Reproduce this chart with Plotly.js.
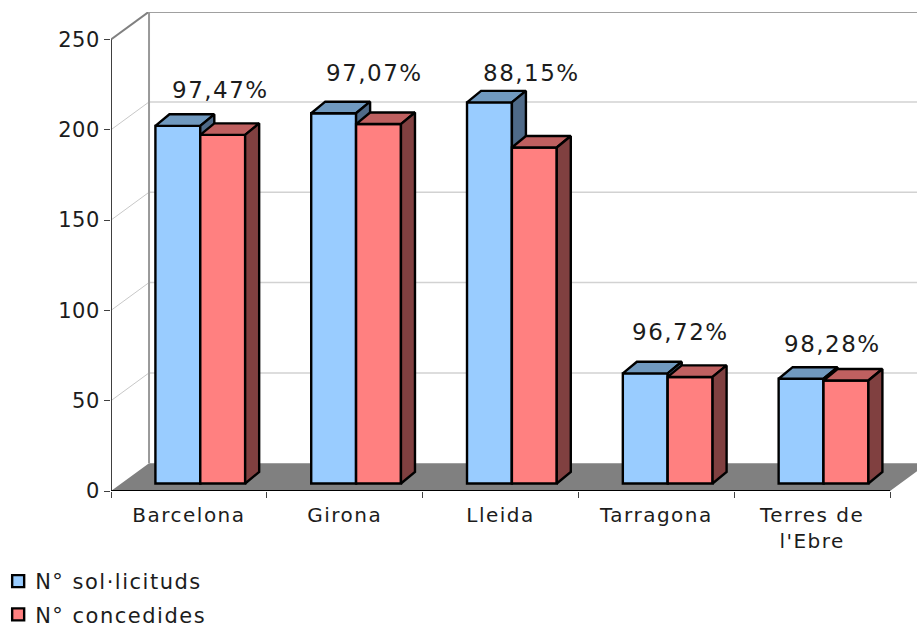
<!DOCTYPE html>
<html>
<head>
<meta charset="utf-8">
<script src="https://cdn.plot.ly/plotly-3.0.1.min.js"></script>
<style>
html,body{margin:0;padding:0;background:#fff;overflow:hidden}
svg text{letter-spacing:1.5px}
svg .ytick text{letter-spacing:.5px}
.legendtext{transform:translateX(-3px)}
.legendbar path{transform:scale(1.2)}
</style>
</head>
<body>
<div id="chart" style="width:917px;height:625px"></div>
<script>
const categories = ["Barcelona", "Girona", "Lleida", "Tarragona", "Terres de<br>l'Ebre"];
const solicituds = [198, 205, 211, 61, 58];
const concedides = [193, 199, 186, 59, 57];
const percentLabels = ["97,47%", "97,07%", "88,15%", "96,72%", "98,28%"];
const percentLabelX = [0.70, 1.688, 2.696, 3.652, 4.628];
const percentLabelY = [222.2, 231.6, 231.6, 88, 81.2];
const valueTicks = [0, 50, 100, 150, 200, 250];
const seriesNames = ["N° sol·licituds", "N° concedides"];

const xMax = 5.173, yMax = 265.2;
const wallDX = 0.244, wallDY = 15.4;      // depth of the chart box, in axis units
const barDX = 0.09, barDY = 6.4;          // depth of each bar
const barBase = 4.15, barStart = 0.285, barW = 0.288;
const grey = "#808080", lightGrid = "#d2d2d2", axisCol = "#404040", textCol = "#1c1c1c";
const outline = 2.4;

const hidden = {hoverinfo: "skip", showlegend: false};
const traces = [];

function poly(xs, ys, fill, xa, ya) {
  traces.push(Object.assign({type: "scatter", mode: "lines", x: xs, y: ys, fill: "toself",
    fillcolor: fill, line: {color: "#000", width: outline}, xaxis: xa, yaxis: ya, cliponaxis: false}, hidden));
}
function lineT(xs, ys, color, width) {
  traces.push(Object.assign({type: "scatter", mode: "lines", x: xs, y: ys,
    line: {color: color, width: width}, xaxis: "x", yaxis: "y", cliponaxis: false}, hidden));
}

// floor
traces.push(Object.assign({type: "scatter", mode: "lines", x: [0, wallDX, xMax + 1, 5 + wallDX, 5, 0],
  y: [0, wallDY, wallDY, wallDY, 0, 0], fill: "toself", fillcolor: grey,
  line: {width: 0}, xaxis: "x", yaxis: "y"}, hidden));
// walls and gridlines
valueTicks.forEach(v => {
  if (v === 0) return;
  const c = v === 250 ? grey : lightGrid;
  lineT([wallDX, xMax], [v + wallDY, v + wallDY], c, v === 250 ? 2 : 1.5);
  lineT([0, wallDX], [v, v + wallDY], v === 250 ? grey : "#c8c8c8", v === 250 ? 2 : 1);
});
lineT([wallDX, wallDX], [wallDY, 250 + wallDY], "#999999", 2);
// front axis lines
lineT([0, 0], [0, 250], axisCol, 2);
lineT([0, 5], [0, 0], "#000000", 2);

function series(vals, name, front, top, side, offs, xa, ya) {
  traces.push({type: "bar", name: name, x: vals.map((_, i) => i + barStart + offs * barW + barW / 2),
    y: vals, base: vals.map(() => barBase), width: barW,
    marker: {color: front, line: {color: "#000", width: outline}},
    xaxis: xa, yaxis: ya, hoverinfo: "skip", legendgroup: name});
  vals.forEach((v, i) => {
    const x0 = i + barStart + offs * barW, x1 = x0 + barW, yt = v + barBase;
    poly([x0, x0 + barDX, x1 + barDX, x1, x0], [yt, yt + barDY, yt + barDY, yt, yt], top, xa, ya);
    poly([x1, x1 + barDX, x1 + barDX, x1, x1], [yt, yt + barDY, barBase + barDY, barBase, yt], side, xa, ya);
  });
}
series(solicituds, seriesNames[0], "#99CCFF", "#7099BF", "#4F6A88", 0, "x2", "y2");
series(concedides, seriesNames[1], "#FF8080", "#BF6060", "#804040", 1, "x3", "y3");

const overlayX = {range: [0, xMax], visible: false, fixedrange: true};
const overlayY = {range: [0, yMax], visible: false, fixedrange: true};
const layout = {
  width: 917, height: 625,
  margin: {l: 111, r: 0, t: 12, b: 134, autoexpand: false},
  paper_bgcolor: "#fff", plot_bgcolor: "#fff",
  font: {family: "DejaVu Sans, Verdana, sans-serif", size: 20, color: textCol},
  barmode: "overlay",
  xaxis: {range: [0, xMax], tickmode: "array", tickvals: categories.map((_, i) => i + 0.5),
    ticktext: categories, ticks: "", showgrid: false, zeroline: false, showline: false,
    tickangle: 0, fixedrange: true, automargin: false, tickfont: {size: 20}, ticklabelstandoff: 10,
    minor: {tickmode: "array", tickvals: [0, 1, 2, 3, 4, 5], ticks: "outside", ticklen: 6, tickwidth: 1, tickcolor: axisCol, showgrid: false}},
  yaxis: {range: [0, yMax], tickmode: "array", tickvals: valueTicks, ticks: "outside",
    ticklen: 6, tickwidth: 1, tickcolor: axisCol, showgrid: false, zeroline: false, showline: false,
    fixedrange: true, automargin: false, tickfont: {size: 21}},
  xaxis2: Object.assign({overlaying: "x", anchor: "y2"}, overlayX),
  yaxis2: Object.assign({overlaying: "y", anchor: "x2"}, overlayY),
  xaxis3: Object.assign({overlaying: "x", anchor: "y3"}, overlayX),
  yaxis3: Object.assign({overlaying: "y", anchor: "x3"}, overlayY),
  showlegend: true,
  legend: {x: -0.14, xanchor: "left", y: -0.146, yanchor: "top", orientation: "v",
    font: {size: 21, color: textCol}, tracegroupgap: 3, bgcolor: "rgba(0,0,0,0)", traceorder: "grouped",
    itemwidth: 30},
  annotations: percentLabels.map((t, i) => ({text: t, x: percentLabelX[i], y: percentLabelY[i],
    xref: "x", yref: "y", showarrow: false, xanchor: "center", yanchor: "middle",
    font: {size: 23, color: textCol}}))
};
Plotly.newPlot("chart", traces, layout, {displayModeBar: false, staticPlot: true});
</script>
</body>
</html>
